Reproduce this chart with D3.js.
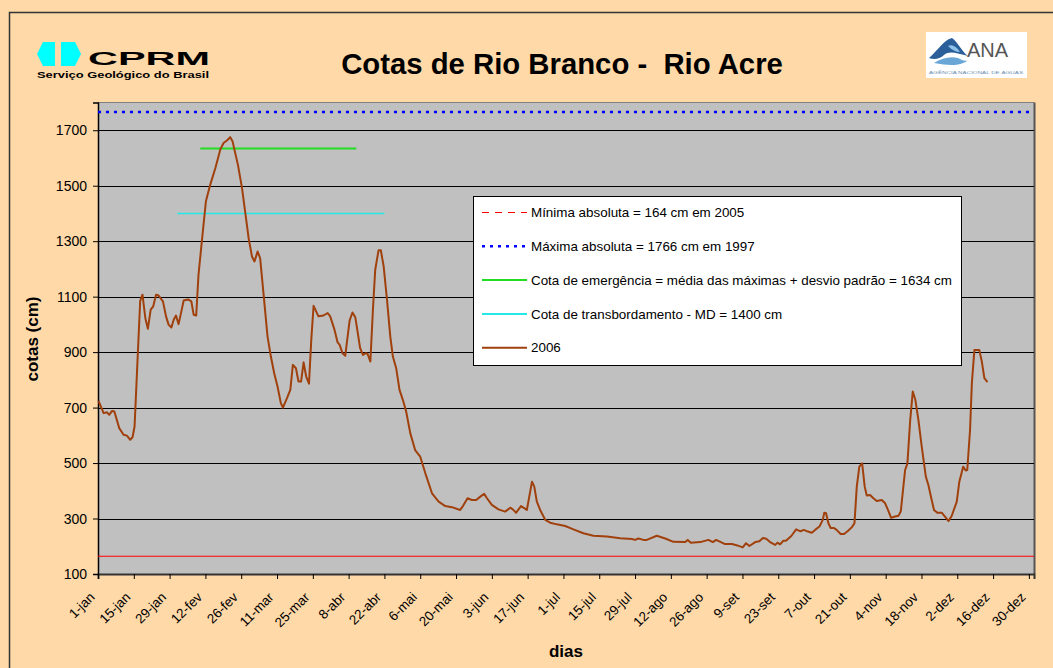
<!DOCTYPE html>
<html lang="pt">
<head>
<meta charset="UTF-8" />
<title>Cotas de Rio Branco - Rio Acre</title>
<script src="https://d3js.org/d3.v7.min.js"></script>
<style>
  body { margin: 0; background: #FFD9A8; }
  svg { display: block; font-family: "Liberation Sans", Arial, sans-serif; }
</style>
</head>
<body>
<svg></svg>
<script>
// eixo x: dias desde 1-jan (ano bissexto, como no grafico original)
const meses = ["jan", "fev", "mar", "abr", "mai", "jun", "jul", "ago", "set", "out", "nov", "dez"];
const tickDias = d3.range(0, 365, 14);
const yTicks = d3.range(100, 1800, 200);

// linhas de referencia
const refNomes = [
  "Mínima absoluta = 164 cm em 2005",
  "Máxima absoluta = 1766 cm em 1997",
  "Cota de emergência = média das máximas + desvio padrão = 1634 cm",
  "Cota de transbordamento - MD = 1400 cm"
];
const refValores = [164, 1766, 1634, 1400];
const refInicio = [0, 0, 40, 31];
const refFim = [366, 366, 101, 112];

// serie 2006
const serieNome = "2006";
const dias2006 = [0.2, 2.2, 3.5, 4.4, 5.5, 6.4, 8.3, 10, 11.3, 12.6, 13.5, 14.3, 15.2, 16.5, 17.4, 18.5, 19.5, 20.6, 21.6, 22.7,
  23.7, 25.4, 26.6, 27.6, 28.7, 29.6, 30.5, 31.5, 32.6, 33.5, 35.2, 36.5, 37.4, 38.4, 39.3, 40.6, 42.2, 43.9, 45.9, 47.8,
  49.1, 50.4, 51.7, 52.6, 54.7, 56.3, 57.6, 58.9, 60.2, 61.2, 62.4, 63.4, 64.7, 66.3, 67.6, 68.9, 70.2, 71.5, 72.3, 73.9,
  75.2, 76.2, 77.4, 78.4, 79.4, 80.4, 81.4, 82.5, 83.4, 84.3, 86.2, 88.2, 89.8, 90.8, 92.4, 93.7, 94.5, 95.6, 96.7, 97.6,
  98.4, 99.5, 100.6, 101.5, 102.5, 103.6, 104.6, 105.4, 106.5, 107.5, 108.4, 109.7, 110.6, 111.7, 113, 114.3, 115.3, 116.6, 117.9, 119.2,
  120.5, 122.1, 124, 126, 128, 130.6, 133.2, 135.8, 138.4, 141.6, 142.7, 144.5, 146.2, 147.9, 149.5, 151, 152.1, 154, 156.6, 159.2,
  161.2, 162.2, 163.5, 165.4, 167.7, 169.7, 170.6, 171.6, 172.9, 174.9, 176.8, 179.4, 182.7, 185.9, 189.8, 193.7, 199, 204.2, 208.8, 210,
  211.3, 213.3, 214.6, 218.5, 221.8, 225, 229.6, 230.6, 231.8, 235.5, 238.7, 240.4, 241.7, 245.2, 247.9, 250, 252.1, 253.4, 254.7, 257,
  258.6, 260, 261.3, 262.8, 264.8, 265.7, 266.7, 268, 269, 271.1, 273, 274.7, 276, 277.6, 279.1, 280.4, 282.1, 283.4, 284, 284.7,
  285.6, 286.5, 287.8, 288.8, 290.4, 291.7, 293.1, 294.8, 295.8, 296.7, 297.7, 298.8, 299.8, 300.6, 301.9, 303.2, 304.5, 306.5, 307.8, 309.1,
  310.1, 311.7, 313, 313.9, 315.6, 316.5, 317.6, 318.6, 319.6, 320.8, 322.1, 323.7, 324.7, 326, 326.9, 328.2, 329.9, 331.2, 332.6, 333.8,
  335.8, 336.8, 338.3, 339.3, 339.9, 341, 341.7, 342.7, 344.6, 345.6, 346.6, 347.8];
const cotas2006 = [724, 680, 683, 674, 688, 686, 626, 602, 599, 584, 593, 632, 818, 1085, 1107, 1023, 984, 1053, 1065, 1107,
  1104, 1083, 1029, 999, 989, 1017, 1032, 1001, 1047, 1086, 1090, 1083, 1035, 1032, 1179, 1299, 1444, 1504, 1564, 1630,
  1654, 1663, 1675, 1660, 1576, 1492, 1402, 1311, 1245, 1227, 1263, 1239, 1113, 956, 884, 824, 776, 716, 700, 734,
  764, 854, 842, 794, 794, 863, 812, 786, 945, 1067, 1029, 1032, 1041, 1029, 983, 935, 926, 896, 887, 956,
  1014, 1043, 1026, 974, 914, 890, 896, 894, 866, 1053, 1197, 1267, 1267, 1209, 1089, 956, 884, 842, 764, 728,
  686, 608, 547, 523, 463, 391, 361, 345, 341, 331, 345, 373, 367, 367, 379, 389, 373, 349, 333, 325,
  339, 333, 321, 345, 331, 433, 415, 361, 331, 295, 285, 279, 273, 261, 247, 238, 235, 229, 226, 223,
  228, 223, 223, 238, 228, 216, 215, 223, 213, 215, 223, 215, 223, 208, 208, 203, 196, 211, 201, 215,
  218, 230, 227, 215, 205, 213, 207, 220, 220, 237, 261, 254, 259, 253, 249, 259, 271, 295, 321, 319,
  283, 266, 266, 259, 244, 244, 254, 269, 283, 415, 487, 499, 415, 383, 385, 373, 363, 367, 355, 327,
  303, 307, 310, 325, 475, 499, 656, 758, 728, 656, 559, 451, 421, 367, 331, 321, 321, 307, 291, 309,
  361, 433, 487, 473, 475, 620, 788, 908, 908, 866, 806, 792];

const W = 1053, H = 668;
const area = { left: 98, right: 1034, top: 102.5, bottom: 574 };

const svg = d3.select("svg").attr("width", W).attr("height", H);

svg.append("rect").attr("width", W).attr("height", H).attr("fill", "#FFD9A8");
// moldura externa
svg.append("rect")
  .attr("x", 9.5).attr("y", 12.5).attr("width", 1100).attr("height", 700)
  .attr("fill", "none").attr("stroke", "#333").attr("stroke-width", 1.5);

const x = d3.scaleLinear().domain([0, 366]).range([area.left, area.right]);
const y = d3.scaleLinear().domain([100, 1800]).range([area.bottom, area.top]);

// fundo cinza da area do grafico
svg.append("rect")
  .attr("x", area.left).attr("y", area.top)
  .attr("width", area.right - area.left).attr("height", area.bottom - area.top)
  .attr("fill", "#C0C0C0");
// borda superior e sombra direita
svg.append("line")
  .attr("x1", area.left).attr("x2", area.right).attr("y1", area.top).attr("y2", area.top)
  .attr("stroke", "#808080").attr("stroke-width", 1);
svg.append("line")
  .attr("x1", area.right + 0.5).attr("x2", area.right + 0.5).attr("y1", area.top).attr("y2", area.bottom)
  .attr("stroke", "#555").attr("stroke-width", 2);

// grade
svg.append("g").selectAll("line")
  .data(yTicks.filter(d => d > 100))
  .join("line")
  .attr("x1", area.left).attr("x2", area.right)
  .attr("y1", d => Math.round(y(d)) + 0.5).attr("y2", d => Math.round(y(d)) + 0.5)
  .attr("stroke", "#000").attr("stroke-width", 1);

// eixos
const inicio = new Date(Date.UTC(2004, 0, 1));
const fmtDia = d => {
  const dt = d3.utcDay.offset(inicio, d);
  return dt.getUTCDate() + "-" + meses[dt.getUTCMonth()];
};

const gx = svg.append("g")
  .attr("transform", "translate(0," + area.bottom + ")")
  .call(d3.axisBottom(x).tickValues(tickDias).tickSize(5).tickFormat(fmtDia));
gx.select(".domain").attr("stroke", "#333").attr("stroke-width", 2);
gx.selectAll(".tick line").attr("stroke", "#000");
gx.selectAll("text")
  .attr("x", 0).attr("y", 0).attr("dy", 0)
  .attr("text-anchor", "end")
  .attr("transform", "translate(-3,24) rotate(-45)")
  .attr("font-size", 13.4).attr("font-family", "Liberation Sans, Arial, sans-serif")
  .attr("fill", "#000");

const gy = svg.append("g")
  .attr("transform", "translate(" + area.left + ",0)")
  .call(d3.axisLeft(y).tickValues(yTicks).tickSize(5).tickPadding(6).tickFormat(d3.format("d")));
gy.select(".domain").attr("stroke", "#000").attr("stroke-width", 1.5);
gy.selectAll(".tick line").attr("stroke", "#000");
gy.selectAll("text")
  .attr("font-size", 14).attr("font-family", "Liberation Sans, Arial, sans-serif")
  .attr("fill", "#000");

// linhas de referencia
const estilos = [
  { cor: "#FF0000", largura: 1, traco: null, tracoLegenda: "7,6" },
  { cor: "#0000FF", largura: 2.5, traco: "3,5", tracoLegenda: "3,5" },
  { cor: "#22DD22", largura: 2, traco: null, tracoLegenda: null },
  { cor: "#22E8E8", largura: 1.5, traco: null, tracoLegenda: null }
];

svg.append("g").selectAll("line")
  .data(refValores)
  .join("line")
  .attr("x1", (d, i) => x(refInicio[i]))
  .attr("x2", (d, i) => x(refFim[i]))
  .attr("y1", d => y(d)).attr("y2", d => y(d))
  .attr("stroke", (d, i) => estilos[i].cor)
  .attr("stroke-width", (d, i) => estilos[i].largura)
  .attr("stroke-dasharray", (d, i) => estilos[i].traco);

// serie 2006
const corSerie = "#A0400C";
const linha = d3.line().x(d => x(d[0])).y(d => y(d[1]));
svg.append("path")
  .datum(d3.zip(dias2006, cotas2006))
  .attr("d", linha)
  .attr("fill", "none")
  .attr("stroke", corSerie)
  .attr("stroke-width", 2)
  .attr("stroke-linejoin", "round");

// legenda
const leg = svg.append("g").attr("transform", "translate(473,196)");
leg.append("rect")
  .attr("x", 0.5).attr("y", 0.5).attr("width", 488).attr("height", 169)
  .attr("fill", "#fff").attr("stroke", "#000").attr("stroke-width", 1);
const itens = refNomes.concat([serieNome]);
const legRow = leg.selectAll("g.item").data(itens).join("g")
  .attr("class", "item")
  .attr("transform", (d, i) => "translate(0," + (16.5 + i * 33.8) + ")");
legRow.append("line")
  .attr("x1", 9).attr("x2", 54).attr("y1", 0).attr("y2", 0)
  .attr("stroke", (d, i) => i < 4 ? estilos[i].cor : corSerie)
  .attr("stroke-width", (d, i) => i === 1 ? 2.5 : (i === 0 ? 1.2 : 2))
  .attr("stroke-dasharray", (d, i) => i < 4 ? estilos[i].tracoLegenda : null);
legRow.append("text")
  .attr("x", 58).attr("y", 4.7)
  .attr("font-size", 13.4)
  .attr("fill", "#000")
  .text(d => d);

// titulos
svg.append("text")
  .attr("x", 562).attr("y", 74)
  .attr("text-anchor", "middle")
  .attr("font-size", 29.3).attr("font-weight", "bold")
  .style("white-space", "pre")
  .text("Cotas de Rio Branco -  Rio Acre");

svg.append("text")
  .attr("x", 566).attr("y", 657)
  .attr("text-anchor", "middle")
  .attr("font-size", 17).attr("font-weight", "bold")
  .text("dias");

svg.append("text")
  .attr("transform", "translate(38,339) rotate(-90)")
  .attr("text-anchor", "middle")
  .attr("font-size", 17).attr("font-weight", "bold")
  .text("cotas (cm)");

// logo CPRM
const cprm = svg.append("g");
cprm.append("path")
  .attr("d", "M37,54 L43,42 L75,42 L81,54 L75,66 L43,66 Z")
  .attr("fill", "#00FFFF");
cprm.append("rect").attr("x", 55).attr("y", 42).attr("width", 6).attr("height", 24).attr("fill", "#FFD9A8");
cprm.append("text")
  .attr("x", 88).attr("y", 64.5)
  .attr("font-size", 18.5).attr("font-weight", "bold")
  .attr("textLength", 122).attr("lengthAdjust", "spacingAndGlyphs")
  .text("CPRM");
cprm.append("text")
  .attr("x", 37).attr("y", 77.5)
  .attr("font-size", 9).attr("font-weight", "bold")
  .attr("textLength", 172).attr("lengthAdjust", "spacingAndGlyphs")
  .text("Serviço Geológico do Brasil");

// logo ANA
const ana = svg.append("g");
ana.append("rect").attr("x", 926).attr("y", 32).attr("width", 101).attr("height", 46).attr("fill", "#fff");
ana.append("path")
  .attr("d", "M929,58 C938,50 944,40 952,38 C958,42 962,52 968,56 C958,54 950,50 944,55 C940,59 934,60 929,58 Z")
  .attr("fill", "#2a5f9a");
ana.append("path")
  .attr("d", "M934,63 C942,58 950,56 958,58 C962,60 965,62 968,60 C962,66 950,66 934,63 Z")
  .attr("fill", "#6aa6d6");
ana.append("path")
  .attr("d", "M948,46 C952,44 956,46 960,52 C956,52 952,50 948,46 Z")
  .attr("fill", "#8ec4ea");
ana.append("text")
  .attr("x", 967).attr("y", 57)
  .attr("font-size", 20)
  .attr("fill", "#555")
  .text("ANA");
ana.append("text")
  .attr("x", 929).attr("y", 73.5)
  .attr("font-size", 4)
  .attr("fill", "#6f8fb0")
  .attr("textLength", 94).attr("lengthAdjust", "spacingAndGlyphs")
  .text("AGÊNCIA NACIONAL DE ÁGUAS");
</script>
</body>
</html>
